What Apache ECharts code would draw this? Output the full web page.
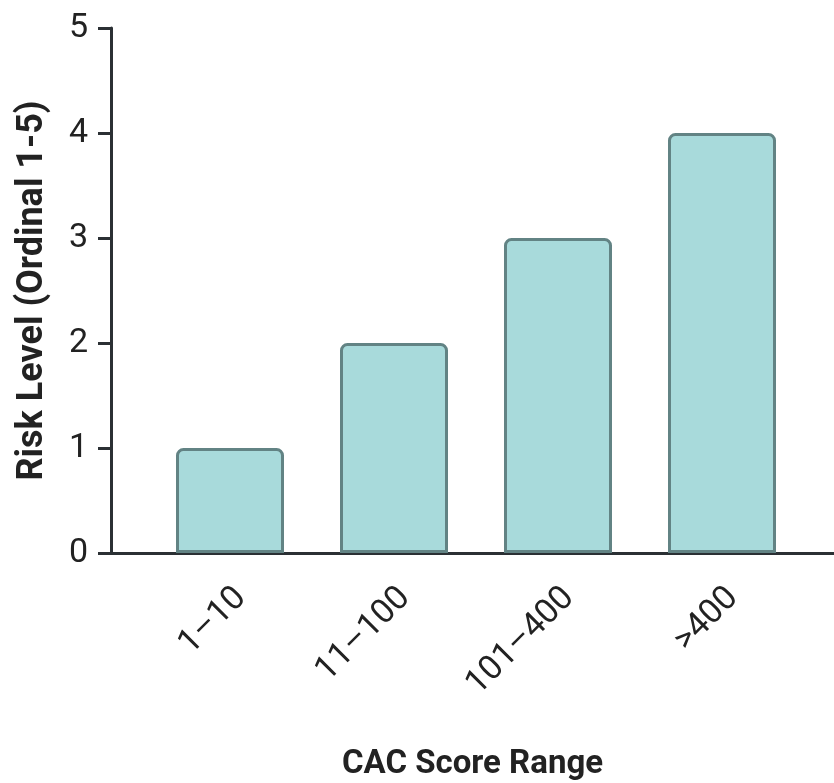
<!DOCTYPE html>
<html>
<head>
<meta charset="utf-8">
<script src="https://cdn.jsdelivr.net/npm/echarts@6/dist/echarts.min.js"></script>
<style>
  html, body { margin: 0; padding: 0; background: #fff; }
  #app { width: 834px; height: 783px; }
</style>
</head>
<body>
<div id="app"></div>
<script>
const categories = ["1\u201310", "11\u2013100", "101\u2013400", ">400"];
const riskLevels = [1, 2, 3, 4];
const yTicks = [0, 1, 2, 3, 4, 5];

const ink = "#2b3034";
const font = "Roboto";

const myChart = echarts.init(document.getElementById("app"));

// grid 0: spines and titles, grid 1: bars, grid 2: tick labels (nudged right like the original)
const hiddenY = (gridIndex) => ({
  gridIndex,
  type: "value",
  min: yTicks[0],
  max: yTicks[yTicks.length - 1],
  interval: 1,
  show: false
});

const box = (left, right) => ({
  left, right, top: 28, bottom: 230,
  outerBoundsMode: "none",
  containLabel: false
});

myChart.setOption({
  animation: false,
  backgroundColor: "#fff",
  grid: [box(111, 0), box(148, 30), box(159, 19)],
  xAxis: [
    {
      gridIndex: 0,
      type: "category",
      data: categories,
      name: "CAC Score Range",
      nameLocation: "middle",
      nameGap: 195,
      nameTextStyle: { fontFamily: font, fontWeight: "bold", fontSize: 33, color: "#222" },
      axisLine: { lineStyle: { color: ink, width: 3 } },
      axisTick: { show: false },
      axisLabel: { show: false }
    },
    {
      gridIndex: 1,
      type: "category",
      data: categories,
      axisLine: { show: false },
      axisTick: { show: false },
      axisLabel: { show: false }
    },
    {
      gridIndex: 2,
      type: "category",
      data: categories,
      axisLine: { show: false },
      axisTick: { show: false },
      axisLabel: {
        rotate: 45,
        margin: 40,
        fontFamily: font,
        fontSize: 34,
        color: "#222"
      }
    }
  ],
  yAxis: [
    {
      gridIndex: 0,
      type: "value",
      min: yTicks[0],
      max: yTicks[yTicks.length - 1],
      interval: 1,
      name: "Risk Level (Ordinal 1-5)",
      nameLocation: "middle",
      nameGap: 60,
      nameTextStyle: { fontFamily: font, fontWeight: "bold", fontSize: 36, color: "#222" },
      axisLine: { show: true, lineStyle: { color: ink, width: 3 } },
      axisTick: { show: true, length: 13, lineStyle: { color: ink, width: 3 } },
      axisLabel: { margin: 23, fontFamily: font, fontSize: 34, color: "#222" },
      splitLine: { show: false }
    },
    hiddenY(1),
    hiddenY(2)
  ],
  series: [
    {
      type: "bar",
      xAxisIndex: 1,
      yAxisIndex: 1,
      data: riskLevels,
      barWidth: 108,
      itemStyle: {
        color: "#a8dadb",
        borderColor: "#628384",
        borderWidth: 3,
        borderRadius: [6, 6, 0, 0]
      },
      z: 1
    }
  ]
});
</script>
</body>
</html>
